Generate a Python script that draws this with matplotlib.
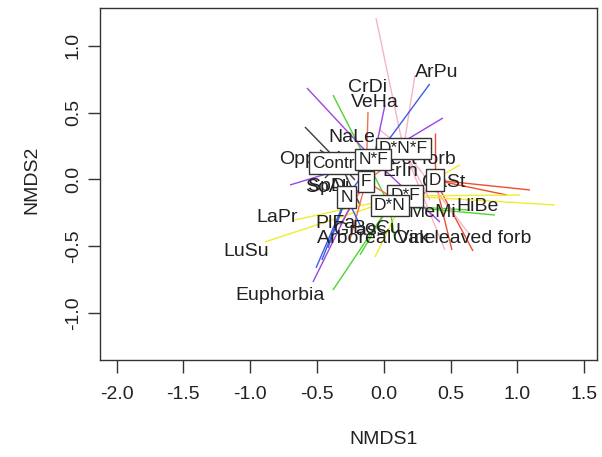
import matplotlib

matplotlib.use("Agg")
import matplotlib.pyplot as plt
import numpy as np

# treatment centroids (NMDS1, NMDS2), in factor-level order
groups = ["Control", "D", "D*F", "D*N", "D*N*F", "F", "N", "N*F"]
cent_x = [-0.328, 0.383, 0.159, 0.043, 0.147, -0.133, -0.279, -0.077]
cent_y = [0.123, -0.004, -0.123, -0.194, 0.231, -0.015, -0.131, 0.149]
group_colors = ["#3c3c3c", "#ec4f2c", "#f2ec2c", "#52d232", "#f6b4c8",
                "#f3704a", "#3d5ce2", "#9b45e6"]

# site scores for each treatment
site_x = {
    "Control": [-0.590, -0.178, -0.478, -0.216, -0.440],
    "D": [0.922, 1.094, 0.510, 0.668, 0.383, 0.234],
    "D*F": [-0.890, -0.665, 1.281, -0.066, 0.570, 1.019],
    "D*N": [-0.380, -0.178, 0.832, -0.380, 0.645, 0.084],
    "D*N*F": [-0.058, 0.234, 0.458, 0.645, 0.346, -0.028],
    "F": [-0.118, -0.328, -0.253, 0.159, 0.031],
    "N": [-0.507, -0.463, -0.418, 0.344, -0.178],
    "N*F": [-0.575, 0.443, -0.702, -0.530, 0.420, 0.009],
}
site_y = {
    "Control": [0.392, -0.190, 0.220, -0.004, 0.011],
    "D": [-0.116, -0.078, -0.526, -0.534, 0.347, -0.190],
    "D*F": [-0.466, -0.302, -0.190, -0.578, 0.108, -0.116],
    "D*N": [-0.825, -0.563, -0.265, 0.631, -0.228, -0.451],
    "D*N*F": [1.205, 0.780, -0.526, -0.414, -0.153, 0.369],
    "F": [0.504, -0.340, -0.451, -0.190, 0.108],
    "N": [-0.660, -0.601, -0.511, 0.713, -0.340],
    "N*F": [0.683, 0.459, -0.041, -0.765, -0.317, 0.556],
}

# species scores
species = ["ArPu", "CrDi", "VeHa", "NaLe", "Opposite", "Erect forb", "ErIn",
           "CaSt", "HiBe", "MeMi", "Oak leaved forb", "Arboreal Vine", "PlFa",
           "BoCu", "Grass", "SpDi", "SoAl", "LaPr", "LuSu", "Euphorbia"]
spec_x = [0.398, -0.118, -0.066, -0.238, -0.493, 0.219, 0.121, 0.451, 0.705,
          0.361, 0.585, -0.058, -0.358, -0.051, -0.178, -0.418, -0.433,
          -0.799, -1.031, -0.777]
spec_y = [0.802, 0.683, 0.578, 0.310, 0.146, 0.146, 0.063, -0.019, -0.205,
          -0.250, -0.437, -0.444, -0.325, -0.362, -0.384, -0.049, -0.063,
          -0.287, -0.541, -0.869]

x_ticks = [-2.0, -1.5, -1.0, -0.5, 0.0, 0.5, 1.0, 1.5]
y_ticks = [-1.0, -0.5, 0.0, 0.5, 1.0]

plt.rcParams["font.family"] = ["Liberation Sans", "DejaVu Sans"]

fig = plt.figure(figsize=(6.02, 4.57), dpi=100)
ax = fig.add_axes([0.1661, 0.2123, 0.8256, 0.7702])

# spider: a segment from each centroid out to its sites
for g, cx, cy, col in zip(groups, cent_x, cent_y, group_colors):
    for sx, sy in zip(site_x[g], site_y[g]):
        ax.plot([cx, sx], [cy, sy], color=col, lw=1.0, zorder=1,
                solid_capstyle="butt")

for name, sx, sy in zip(species, spec_x, spec_y):
    ax.text(sx, sy, name, ha="center", va="center", fontsize=14,
            color="#222222", zorder=2)

# centroid labels in boxes, later levels on top
for i, (g, cx, cy) in enumerate(zip(groups, cent_x, cent_y)):
    ax.text(cx, cy, g, ha="center", va="center", fontsize=12.5,
            color="#222222", zorder=3 + i,
            bbox=dict(boxstyle="square,pad=0.18", fc="white", ec="#333333",
                      lw=1.0))

ax.set_xlim(-2.124, 1.596)
ax.set_ylim(-1.347, 1.280)
ax.set_xticks(x_ticks)
ax.set_yticks(y_ticks)
ax.set_xticklabels([f"{t:.1f}" for t in x_ticks])
ax.set_yticklabels([f"{t:.1f}" for t in y_ticks], rotation=90, va="center")
ax.tick_params(axis="both", length=9, width=1.0, color="#333333",
               labelsize=14, labelcolor="#222222")
ax.tick_params(axis="x", pad=10)
ax.tick_params(axis="y", pad=4)
for sp in ax.spines.values():
    sp.set_color("#333333")
    sp.set_linewidth(1.0)

fig.text(383.8 / 602, 1 - 440 / 457, "NMDS1", ha="center", va="center",
         fontsize=14, color="#222222")
fig.text(32 / 602, 1 - 180 / 457, "NMDS2", ha="center", va="center",
         rotation=90, fontsize=14, color="#222222")

fig.savefig("out.png", dpi=100)
